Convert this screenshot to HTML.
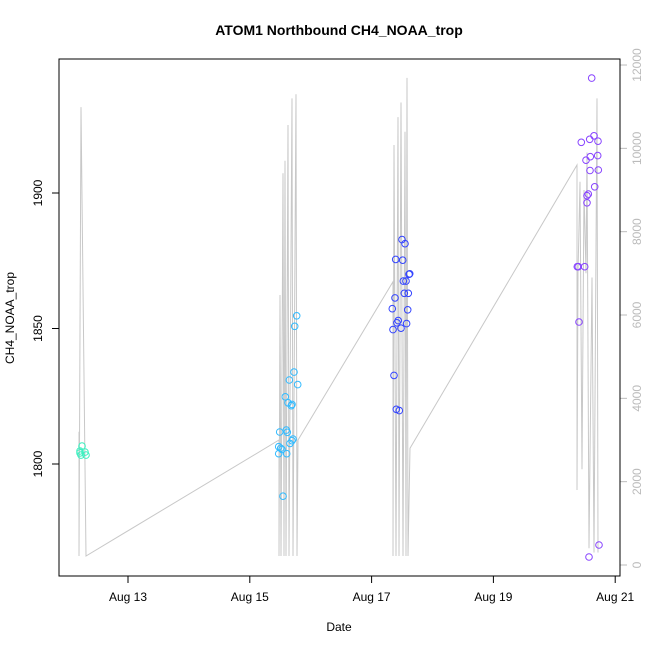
<!DOCTYPE html>
<html><head><meta charset="utf-8"><style>
body{margin:0;background:#fff}
svg text{font-family:"Liberation Sans",sans-serif}
</style></head><body>
<svg id="chart" width="650" height="650" xmlns="http://www.w3.org/2000/svg">
<text x="339" y="35" text-anchor="middle" font-size="14" font-weight="bold">ATOM1 Northbound CH4_NOAA_trop</text>
<text x="339" y="631" text-anchor="middle" font-size="12">Date</text>
<text transform="translate(14,318) rotate(-90)" text-anchor="middle" font-size="12">CH4_NOAA_trop</text>
<g id="alt"></g>
<g id="pts"></g>
<g id="axes"></g>
<rect x="59" y="59" width="561" height="517" fill="none" stroke="#000"/>
</svg>
<script>
const altDays=[12.195,12.195,12.228,12.310,15.479,15.479,15.496,15.512,15.545,15.562,15.578,15.594,15.627,15.644,15.693,15.709,15.759,15.775,15.791,17.351,17.351,17.368,17.401,17.433,17.450,17.483,17.516,17.548,17.565,17.581,17.598,17.631,20.373,20.373,20.389,20.422,20.455,20.488,20.521,20.537,20.570,20.619,20.652,20.701,20.718];
const altVals=[3200,216,10990,216,3000,216,6480,216,9400,216,9700,216,10560,216,11200,216,11300,216,3000,6800,216,10080,216,10750,216,11100,216,10400,216,11690,216,2800,9600,1800,7000,9200,2300,9000,7000,9900,400,6900,300,11200,300];
const greenDays=[12.212,12.245,12.212,12.294,12.310,12.228];
const greenVals=[1804.1,1806.6,1804.8,1804.4,1803.3,1803.3];
const cyanDays=[15.770,15.737,15.726,15.649,15.787,15.583,15.627,15.693,15.681,15.491,15.599,15.616,15.709,15.693,15.660,15.475,15.507,15.529,15.475,15.606,15.545];
const cyanVals=[1854.7,1850.8,1833.9,1831.0,1829.3,1824.8,1822.6,1822.0,1821.5,1811.8,1812.5,1811.7,1809.2,1808.6,1807.6,1806.4,1805.8,1805.4,1803.8,1803.8,1788.1];
const blueDays=[17.499,17.548,17.396,17.511,17.626,17.614,17.521,17.565,17.537,17.603,17.384,17.340,17.593,17.437,17.415,17.575,17.483,17.351,17.368,17.406,17.455];
const blueVals=[1882.8,1881.3,1875.5,1875.2,1870.2,1870.0,1867.5,1867.5,1863.0,1863.0,1861.3,1857.3,1856.9,1852.9,1852.1,1851.8,1850.1,1849.6,1832.7,1820.2,1819.7];
const purpleDays=[20.614,20.652,20.581,20.443,20.718,20.591,20.713,20.521,20.586,20.722,20.663,20.558,20.537,20.537,20.378,20.394,20.499,20.406,20.734,20.570];
const purpleVals=[1942.4,1921.1,1919.8,1918.7,1919.1,1913.4,1913.8,1912.1,1908.3,1908.5,1902.3,1899.6,1899.0,1896.4,1872.8,1872.8,1872.8,1852.4,1770.1,1765.7];
const xTickDays=[13,15,17,19,21];
const xTickLabels=["Aug 13","Aug 15","Aug 17","Aug 19","Aug 21"];
const yTicks=[1800,1850,1900];
const rTicks=[0,2000,4000,6000,8000,10000,12000];

const NS="http://www.w3.org/2000/svg";
const X=d=>128+(d-13)*60.9;
const Y=v=>464-(v-1800)*2.71;
const YR=a=>565-a/2000*83.33;
function mk(t,a,p){const e=document.createElementNS(NS,t);for(const k in a)e.setAttribute(k,a[k]);p.appendChild(e);return e;}

const altG=document.getElementById('alt');
const pl=mk('polyline',{points:altDays.map((d,i)=>X(d).toFixed(1)+','+YR(altVals[i]).toFixed(1)).join(' '),fill:'none',stroke:'#c8c8c8','stroke-width':1},altG);



const ptsG=document.getElementById('pts');
[[greenDays,greenVals,'#3cf0c0','green'],[cyanDays,cyanVals,'#33bbff','cyan'],[blueDays,blueVals,'#3344ff','blue'],[purpleDays,purpleVals,'#8844ff','purple']].forEach(([ds,vs,c,n])=>{
  ds.forEach((d,i)=>{
    const e=mk('circle',{cx:X(d).toFixed(1),cy:Y(vs[i]).toFixed(1),r:3.3,fill:'none',stroke:c,'stroke-width':1},ptsG);
    
    
  });
});

const ax=document.getElementById('axes');
xTickDays.forEach((d,i)=>{
  mk('line',{x1:X(d),x2:X(d),y1:576,y2:583,stroke:'#000'},ax);
  const t=mk('text',{x:X(d),y:601,'text-anchor':'middle','font-size':12},ax);
  t.textContent=xTickLabels[i];
  
  
});
mk('line',{x1:X(13),x2:X(21),y1:576,y2:576,stroke:'#000'},ax);
yTicks.forEach(v=>{
  mk('line',{x1:52,x2:59,y1:Y(v),y2:Y(v),stroke:'#000'},ax);
  const t=mk('text',{transform:`translate(42,${Y(v)}) rotate(-90)`,'text-anchor':'middle','font-size':12},ax);
  t.textContent=v;
  
  
});
rTicks.forEach(v=>{
  mk('line',{x1:620,x2:627,y1:YR(v),y2:YR(v),stroke:'#bbb'},ax);
  const t=mk('text',{transform:`translate(641,${YR(v)}) rotate(-90)`,'text-anchor':'middle','font-size':12,fill:'#bbb'},ax);
  t.textContent=v;
  
  
});
</script>
</body></html>
